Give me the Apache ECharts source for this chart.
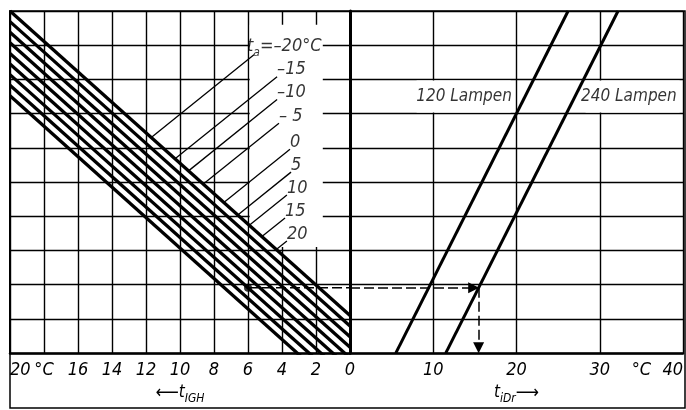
<!DOCTYPE html>
<html>
<head>
<meta charset="utf-8">
<script src="https://cdn.jsdelivr.net/npm/echarts@6/dist/echarts.min.js"></script>
<style>
html,body{margin:0;padding:0;background:#fff;}
#chart{width:686px;height:410px;}
</style>
</head>
<body>
<div id="chart"></div>
<script>
// Nomogramm t_IGH / t_a / t_iDr
const FONT = "'DejaVu Sans Condensed','Liberation Sans Narrow','DejaVu Sans',sans-serif";
const INK = '#000';

// Achsen
const tIGHMax = 20;            // linke Skala, nach links steigend
const tiDrMax = 40;            // rechte Skala
const tiDrLabels = [10, 20, 30, 35, 40];   // 35 -> "°C"

// Schraffur: eine Linie je Außentemperatur t_a
const taValues = [-20, -15, -10, -5, 0, 5, 10, 15, 20];
const taAt0 = [1.1, 0.79, 0.48, 0.17, -0.14, -0.45, -0.76, -1.07, -1.38];   // Ordinate bei t_IGH = 0
const taAt20 = [10.0, 9.69, 9.38, 9.07, 8.76, 8.45, 8.14, 7.83, 7.52];      // Ordinate bei t_IGH = 20

// Lampenlinien (t_iDr bei Ordinate 0 und 10)
const lampNames = ['120 Lampen', '240 Lampen'];
const lampAt0 = [5.5, 11.5];
const lampAt10 = [26.2, 32.2];

// Ablesebeispiel
const exampleTIGH = 6;
const exampleTaIndex = 6;      // t_a = 10
const exampleLamp = 1;         // 240 Lampen

// Beschriftungsanker der t_a-Hinweislinien (t_IGH, Ordinate)
const taLabelAnchor = [[5.65, 8.72], [4.29, 8.08], [4.29, 7.41], [4.18, 6.72], [3.53, 5.96],
                       [3.47, 5.29], [3.71, 4.62], [3.82, 3.95], [3.71, 3.28]];
const leaderSlope = 0.4;

const chart = echarts.init(document.getElementById('chart'));

const rich = {
  t: {fontSize: 17, fontStyle: 'italic', fontFamily: FONT, color: INK, lineHeight: 24},
  b: {fontSize: 18, fontStyle: 'italic', fontFamily: FONT, color: INK, lineHeight: 24},
  s: {fontSize: 12, fontStyle: 'italic', fontFamily: FONT, color: INK, lineHeight: 12, verticalAlign: 'bottom'},
  a: {fontSize: 18, fontFamily: FONT, color: INK, lineHeight: 24}
};

function taLine(i, t) {
  return taAt0[i] + (taAt20[i] - taAt0[i]) * t / tIGHMax;
}

let series = [];

// Schraffurlinien
taValues.forEach((ta, i) => {
  series.push({
    type: 'line', xAxisIndex: 0, yAxisIndex: 0, silent: true, symbol: 'none', z: 3,
    data: [[0, taAt0[i]], [tIGHMax, taAt20[i]]],
    lineStyle: {color: INK, width: 3.3},
    markArea: i === 0 ? {
      silent: true, itemStyle: {color: '#fff'},
      data: [[{coord: [5.9, 9.6]}, {coord: [1.6, 3.1]}]]
    } : undefined
  });
});

// Hinweislinien bis zur oberen Bandkante
const s0 = (taAt20[0] - taAt0[0]) / tIGHMax;
taLabelAnchor.forEach(p => {
  const t1 = (p[1] + leaderSlope * p[0] - taAt0[0]) / (s0 + leaderSlope);
  series.push({
    type: 'line', xAxisIndex: 0, yAxisIndex: 0, silent: true, symbol: 'none', z: 4,
    data: [p, [t1, taLine(0, t1)]],
    lineStyle: {color: INK, width: 1.3}
  });
});

// t_a-Beschriftungen
series.push({
  type: 'scatter', xAxisIndex: 0, yAxisIndex: 0, silent: true, symbolSize: 0, z: 5,
  data: taLabelAnchor.map((p, i) => ({
    value: p,
    label: {
      formatter: i === 0 ? '{b|t}{s|a}{b|=\u201320°C}'
        : '{b|' + (taValues[i] < 0 ? '\u2013' + (taValues[i] === -5 ? ' ' : '') + (-taValues[i]) : taValues[i]) + '}',
      offset: i === 0 ? [-7, -8] : [0, -7]
    }
  })),
  label: {show: true, position: 'right', distance: 0, rich: rich}
});

// Lampenlinien
lampNames.forEach((name, i) => {
  series.push({
    type: 'line', xAxisIndex: 1, yAxisIndex: 1, silent: true, symbol: 'none', z: 3,
    data: [[lampAt0[i], 0], [lampAt10[i], 10]],
    lineStyle: {color: INK, width: 3},
    markArea: i === 0 ? {
      silent: true, itemStyle: {color: '#fff'},
      data: [
        [{coord: [8.0, 7.97]}, {coord: [19.3, 7.03]}],
        [{coord: [28.3, 7.97]}, {coord: [39.6, 7.03]}]
      ]
    } : undefined
  });
});
series.push({
  type: 'scatter', xAxisIndex: 1, yAxisIndex: 1, silent: true, symbolSize: 0, z: 5,
  data: [[13.7, 7.5], [33.5, 7.5]].map((p, i) => ({value: p, label: {formatter: '{t|' + lampNames[i] + '}'}})),
  label: {show: true, position: 'inside', rich: rich}
});

// Ablesebeispiel
const exU = taLine(exampleTaIndex, exampleTIGH);
const exT = lampAt0[exampleLamp] + (lampAt10[exampleLamp] - lampAt0[exampleLamp]) * exU / 10;
series.push({
  type: 'line', xAxisIndex: 0, yAxisIndex: 0, silent: true, symbol: 'none', z: 6,
  data: [[exampleTIGH, exU], [0, exU]],
  lineStyle: {color: INK, width: 1.5, type: [10, 4]}
});
series.push({
  type: 'scatter', xAxisIndex: 0, yAxisIndex: 0, silent: true, z: 6,
  data: [[exampleTIGH, exU]], symbolSize: 8, itemStyle: {color: INK}
});
series.push({
  type: 'line', xAxisIndex: 1, yAxisIndex: 1, silent: true, symbol: 'none', z: 6, data: [],
  markLine: {
    silent: true, symbol: ['none', 'triangle'], symbolSize: 11,
    label: {show: false},
    lineStyle: {color: INK, width: 1.5, type: [10, 4]},
    data: [
      [{coord: [0, exU]}, {coord: [exT - 0.6, exU]}],
      [{coord: [exT, exU]}, {coord: [exT, 0.16]}]
    ]
  }
});

const axisFont = {fontSize: 18, fontStyle: 'italic', fontFamily: FONT, color: INK};

chart.setOption({
  backgroundColor: '#fff',
  animation: false,
  grid: [
    {left: 10, top: 11, width: 340, height: 344},
    {left: 350, top: 11, width: 335, height: 344}
  ],
  xAxis: [
    {
      gridIndex: 0, type: 'value', min: 0, max: tIGHMax, interval: 2, inverse: true,
      axisLine: {show: true, onZero: false, lineStyle: {color: INK, width: 2.5}},
      axisTick: {show: false},
      splitLine: {show: true, lineStyle: {color: INK, width: 1.4}},
      axisLabel: Object.assign({margin: 8, alignMaxLabel: 'left',
        formatter: v => v === 18 ? '°C' : String(v)}, axisFont),
      name: '{a|\u27F5}{t|t}{s|IGH}', nameLocation: 'middle', nameGap: 26,
      nameTextStyle: {rich: rich}
    },
    {
      gridIndex: 1, type: 'value', min: 0, max: tiDrMax, interval: 10,
      axisLine: {show: true, onZero: false, lineStyle: {color: INK, width: 2.5}},
      axisTick: {show: false},
      splitLine: {show: true, lineStyle: {color: INK, width: 1.4}},
      axisLabel: Object.assign({margin: 8, alignMaxLabel: 'right', customValues: tiDrLabels,
        formatter: v => v === 35 ? '°C' : String(v)}, axisFont),
      name: '{t|t}{s|iDr}{a|\u27F6}', nameLocation: 'middle', nameGap: 26,
      nameTextStyle: {rich: rich}
    }
  ],
  yAxis: [
    {
      gridIndex: 0, type: 'value', min: 0, max: 10, interval: 1,
      axisLine: {show: true, onZero: false, lineStyle: {color: INK, width: 2}},
      axisTick: {show: false}, axisLabel: {show: false},
      splitLine: {show: true, lineStyle: {color: INK, width: 1.4}}
    },
    {
      gridIndex: 1, type: 'value', min: 0, max: 10, interval: 1,
      axisLine: {show: true, onZero: false, lineStyle: {color: INK, width: 3}},
      axisTick: {show: false}, axisLabel: {show: false},
      splitLine: {show: true, lineStyle: {color: INK, width: 1.4}}
    }
  ],
  graphic: [{
    type: 'rect', silent: true, z: 10,
    shape: {x: 10, y: 11, width: 675, height: 397},
    style: {fill: 'none', stroke: INK, lineWidth: 1.5}
  }],
  series: series
});
</script>
</body>
</html>
